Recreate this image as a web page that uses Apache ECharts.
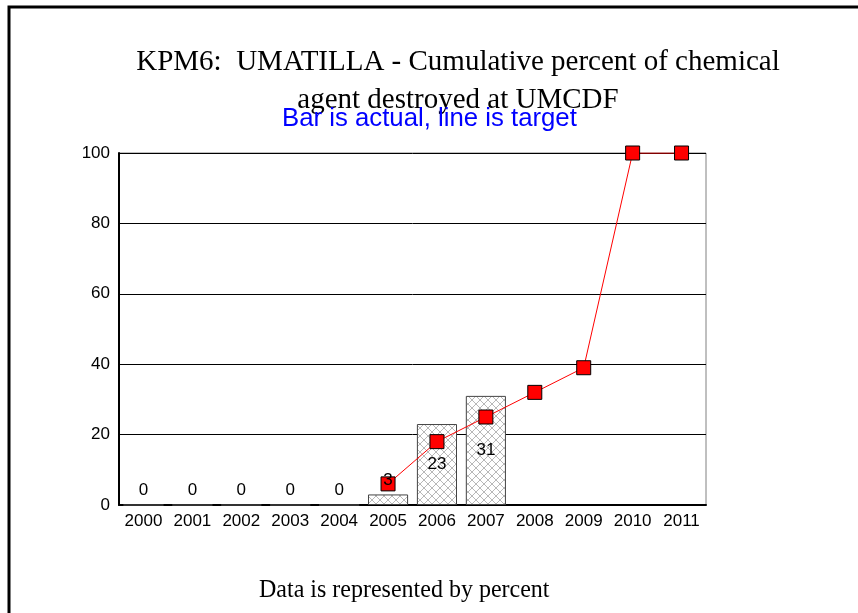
<!DOCTYPE html>
<html><head><meta charset="utf-8">
<script src="https://cdn.jsdelivr.net/npm/echarts@6/dist/echarts.min.js"></script>
<style>html,body{margin:0;padding:0;background:#fff}#c{width:858px;height:613px}</style>
</head><body><div id="c"></div>
<script>
const years = ['2000','2001','2002','2003','2004','2005','2006','2007','2008','2009','2010','2011'];
const actual = [0,0,0,0,0,3,23,31,null,null,null,null];
const target = [null,null,null,null,null,6,18,25,32,39,100,100];
const yTicks = [0,20,40,60,80,100];

function hatch(){
  const c = document.createElement('canvas');
  c.width = 8; c.height = 8;
  const g = c.getContext('2d');
  g.fillStyle = '#fff'; g.fillRect(0,0,8,8);
  g.strokeStyle = '#b8b8b8'; g.lineWidth = 1;
  g.beginPath(); g.moveTo(0,0); g.lineTo(8,8); g.moveTo(8,0); g.lineTo(0,8); g.stroke();
  return c;
}
const pat = {image: hatch(), repeat: 'repeat'};

const labelData = actual.map(v => {
  if (v === null) return null;
  return {value: v, label: {position: v <= 5 ? 'top' : 'inside'}};
});

const font = '"Liberation Sans", Arial, sans-serif';
const chart = echarts.init(document.getElementById('c'));
chart.setOption({
  animation: false,
  backgroundColor: '#fff',
  graphic: [
    {type:'polyline', shape:{points:[[9,613],[9,7],[858,7]]}, style:{stroke:'#000', lineWidth:3, fill:null}},
    {type:'text', x:458, y:43, style:{text:'KPM6:  UMATILLA - Cumulative percent of chemical\nagent destroyed at UMCDF', font:'29px "Liberation Serif", "Times New Roman", serif', fill:'#000', align:'center', verticalAlign:'top', lineHeight:38}},
    {type:'text', x:282, y:107, scaleX:1.03, style:{text:'Bar is actual, line is target', font:'25px ' + font, fill:'#0000ff', align:'left', verticalAlign:'top'}},
    {type:'text', x:259, y:578, scaleX:0.96, style:{text:'Data is represented by percent', font:'25px "Liberation Serif", "Times New Roman", serif', fill:'#000', align:'left', verticalAlign:'top'}}
  ],
  grid: {left:119, right:152, top:153, bottom:108, show:true, borderColor:'#808080', borderWidth:1},
  xAxis: {
    type:'category', data: years, boundaryGap:true,
    axisLine:{lineStyle:{color:'#000', width:2}},
    axisTick:{show:false},
    axisLabel:{color:'#000', fontSize:17, fontFamily:font, margin:8, interval:0}
  },
  yAxis: {
    type:'value', min:0, max:100, interval:20,
    axisLine:{show:true, lineStyle:{color:'#000', width:2}},
    axisTick:{show:false},
    splitLine:{lineStyle:{color:'#000', width:1}},
    axisLabel:{color:'#000', fontSize:17, fontFamily:font, margin:9,
      formatter: v => yTicks.includes(v) ? String(v) : ''}
  },
  series: [
    {type:'bar', data: actual, barCategoryGap:'18%', z:2,
     itemStyle:{color: pat, borderColor:'#444', borderWidth:1}},
    {type:'line', data: target, connectNulls:false, z:3,
     lineStyle:{color:'#ff0000', width:1},
     symbol:'rect', symbolSize:14,
     itemStyle:{color:'#ff0000', borderColor:'#000', borderWidth:1}},
    {type:'bar', data: labelData, barGap:'-100%', barCategoryGap:'18%', z:5, silent:true,
     itemStyle:{color:'rgba(0,0,0,0)', borderWidth:0},
     label:{show:true, color:'#000', fontSize:17, fontFamily:font, distance:6}}
  ]
});
</script></body></html>
